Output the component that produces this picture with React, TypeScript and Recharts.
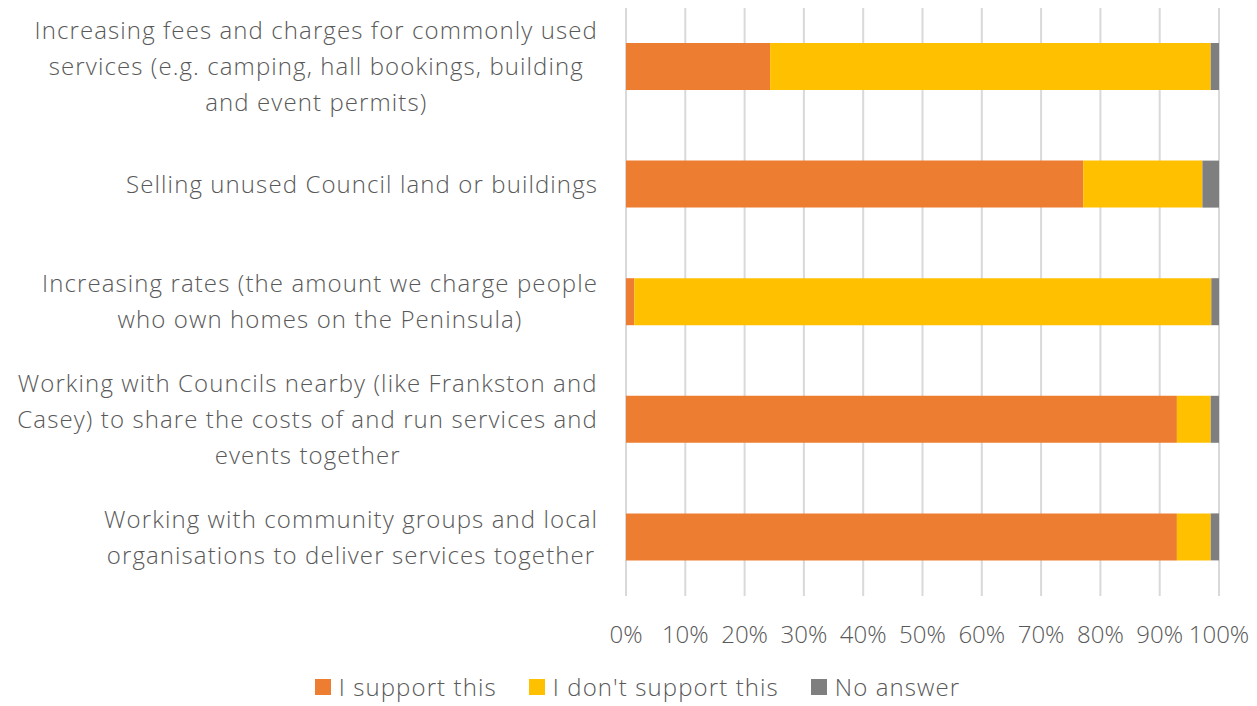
import { BarChart, Bar, XAxis, YAxis, CartesianGrid, Legend } from "recharts"

const categories = [
  "Increasing fees and charges for commonly used services (e.g. camping, hall bookings, building and event permits)",
  "Selling unused Council land or buildings",
  "Increasing rates (the amount we charge people who own homes on the Peninsula)",
  "Working with Councils nearby (like Frankston and Casey) to share the costs of and run services and events together",
  "Working with community groups and local organisations to deliver services together",
]

// how each label wraps in the original
const labelLines = [
  ["Increasing fees and charges for commonly used", "services (e.g. camping, hall bookings, building", "and event permits)"],
  ["Selling unused Council land or buildings"],
  ["Increasing rates (the amount we charge people", "who own homes on the Peninsula)"],
  ["Working with Councils nearby (like Frankston and", "Casey) to share the costs of and run services and", "events together"],
  ["Working with community groups and local", "organisations to deliver services together"],
]

const support = [24.3, 77.1, 1.4, 92.9, 92.9]
const dontSupport = [74.3, 20.1, 97.3, 5.7, 5.7]
const noAnswer = [1.4, 2.8, 1.3, 1.4, 1.4]

const xTicks = [0, 10, 20, 30, 40, 50, 60, 70, 80, 90, 100]

const series = [
  { key: "support", name: "I support this", color: "#ED7D31" },
  { key: "dontSupport", name: "I don't support this", color: "#FFC000" },
  { key: "noAnswer", name: "No answer", color: "#7F7F7F" },
]

const data = categories.map((c, i) => ({
  category: c,
  support: support[i],
  dontSupport: dontSupport[i],
  noAnswer: noAnswer[i],
}))

const FONT = "'Open Sans'"
const FONT_SIZE = 24
const WEIGHT = 300
const SPACING = 1.1
const TEXT = "#595959"

let ctx: CanvasRenderingContext2D | null = null
function textWidth(s: string) {
  if (!ctx) ctx = document.createElement("canvas").getContext("2d")
  if (!ctx) return s.length * 13
  ctx.font = `${WEIGHT} ${FONT_SIZE}px ${FONT}`
  return ctx.measureText(s).width + s.length * SPACING
}

function CategoryTick(props: any) {
  const { x, y, payload } = props
  const idx = categories.indexOf(payload.value)
  const lines = labelLines[idx] || [payload.value]
  const maxW = Math.max(...lines.map(textWidth))
  const cx = x - 20 - maxW / 2
  const lh = 36
  const startY = y - ((lines.length - 1) * lh) / 2
  return (
    <text textAnchor="middle" fill={TEXT} fontSize={FONT_SIZE} fontFamily={FONT} fontWeight={WEIGHT} letterSpacing={SPACING}>
      {lines.map((l, i) => (
        <tspan key={i} x={cx} y={startY + i * lh} dy="0.35em">
          {l}
        </tspan>
      ))}
    </text>
  )
}

function LegendContent() {
  return (
    <div style={{ display: "flex", justifyContent: "center", gap: 32, fontFamily: FONT, fontWeight: WEIGHT, fontSize: FONT_SIZE, lineHeight: "26px", letterSpacing: SPACING, color: TEXT }}>
      {series.map((s) => (
        <div key={s.key} style={{ display: "flex", alignItems: "center" }}>
          <span style={{ width: 16, height: 16, background: s.color, marginRight: 8, display: "inline-block" }} />
          <span>{s.name}</span>
        </div>
      ))}
    </div>
  )
}

export default function App() {
  return (
    <div style={{ position: "absolute", left: 0, top: 0, background: "#fff" }}>
      <BarChart
        width={1257}
        height={706}
        data={data}
        layout="vertical"
        margin={{ top: 8, right: 38, left: 0, bottom: 0 }}
        barSize={47}
      >
        <CartesianGrid horizontal={false} stroke="#d9d9d9" strokeWidth={2} />
        <XAxis
          type="number"
          domain={[0, 100]}
          ticks={xTicks}
          tickFormatter={(v) => `${v}%`}
          axisLine={false}
          tickLine={false}
          height={80}
          tick={{ fill: TEXT, fontSize: FONT_SIZE, fontFamily: FONT, fontWeight: WEIGHT, dy: 22 }}
          interval={0}
        />
        <YAxis
          type="category"
          dataKey="category"
          width={626}
          axisLine={false}
          tickLine={false}
          tick={<CategoryTick />}
          interval={0}
        />
        <Legend
          verticalAlign="bottom"
          height={30}
          wrapperStyle={{ left: 28, width: 1219, bottom: 2 }}
          content={<LegendContent />}
        />
        {series.map((s) => (
          <Bar key={s.key} dataKey={s.key} name={s.name} stackId="a" fill={s.color} isAnimationActive={false} />
        ))}
      </BarChart>
    </div>
  )
}
